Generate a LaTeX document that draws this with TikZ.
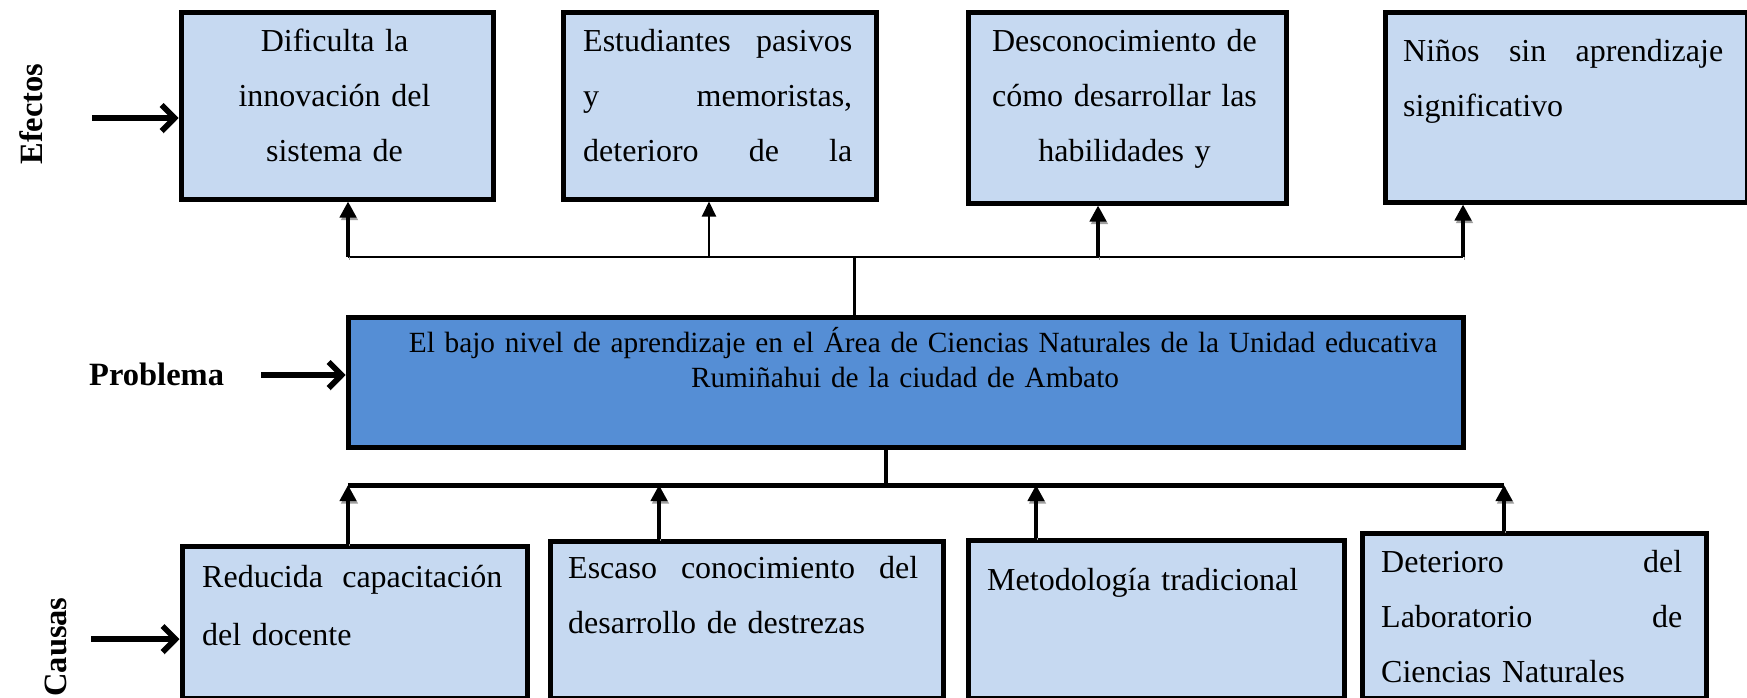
\documentclass[tikz,border=0pt]{standalone}
\usepackage{fontspec}
\setmainfont{Liberation Serif}
\usetikzlibrary{arrows.meta}
\definecolor{lightbox}{HTML}{C6D9F1}
\definecolor{probbox}{HTML}{558ED5}
\definecolor{shadowgray}{gray}{0.62}
\begin{document}
\begin{tikzpicture}[x=1pt,y=-1pt,
  ebox/.style={draw=black, line width=5pt, fill=lightbox, rectangle, inner sep=0pt, anchor=north west},
  pbox/.style={ebox, fill=probbox},
  boxtxt/.style={font=\fontsize{32}{55}\selectfont, inner sep=0pt},
  probtxt/.style={font=\fontsize{29.3}{35}\selectfont, inner sep=0pt, text width=1100pt, align=center},
  lbl/.style={font=\fontsize{32.5}{36}\selectfont\bfseries, inner sep=0pt},
  shadowed/.style={preaction={draw=shadowgray, transform canvas={shift={(1.5pt,-2.5pt)}}}},
  sidearrow/.style={line width=5.5pt, -{Straight Barb[length=13pt, width=26pt, line width=5.5pt]}, shadowed},
  uparrow/.style={line width=4.5pt, -{Triangle[length=16pt, width=16pt]}, shadowed},
  thinuparrow/.style={line width=2pt, -{Triangle[length=15pt, width=14pt]}},
  thinline/.style={line width=2pt},
  midline/.style={line width=3pt},
  thickline/.style={line width=5pt, shadowed},
  vline/.style={line width=4pt, shadowed}]
\useasboundingbox (0,0) rectangle (1747,698);

% effect boxes
\node[ebox, minimum width=312pt, minimum height=186pt] (e1) at (178.5,10.5) {};
\node[ebox, minimum width=313pt, minimum height=186pt] (e2) at (560.5,10.5) {};
\node[ebox, minimum width=318pt, minimum height=190pt] (e3) at (965.5,10.5) {};
\node[ebox, minimum width=362pt, minimum height=189pt] (e4) at (1382.5,10.5) {};

\node[boxtxt, anchor=base, text width=300pt, align=center] (te1) at (334.5,52)
  {Dificulta la\\innovación del\\sistema de};
\node[boxtxt, anchor=base west, text width=269pt, align=left] (te2) at (583,52)
  {Estudiantes\hfill pasivos\\y\hfill memoristas,\\deterioro\hfill de\hfill la};
\node[boxtxt, anchor=base, text width=310pt, align=center] (te3) at (1124.5,52)
  {Desconocimiento de\\cómo desarrollar las\\habilidades y};
\node[boxtxt, anchor=base west, text width=320pt, align=left] (te4) at (1403,62)
  {Niños\hfill sin\hfill aprendizaje\\significativo};

% problem box
\node[pbox, minimum width=1115pt, minimum height=130pt] (p) at (345.5,314.5) {};
\node[probtxt, anchor=base] (tp) at (905,352)
  {\hspace*{36pt}El bajo nivel de aprendizaje en el Área de Ciencias Naturales de la Unidad educativa\\Rumiñahui de la ciudad de Ambato};

% cause boxes
\node[ebox, minimum width=345pt, minimum height=152pt] (c1) at (179.5,543.5) {};
\node[ebox, minimum width=393pt, minimum height=157pt] (c2) at (547.5,538.5) {};
\node[ebox, minimum width=376pt, minimum height=158pt] (c3) at (965.5,537.5) {};
\node[ebox, minimum width=344pt, minimum height=165pt] (c4) at (1359.5,530.5) {};

\node[boxtxt, font=\fontsize{32}{58}\selectfont, anchor=base west, text width=300pt, align=left] (tc1) at (202,587)
  {Reducida\hfill capacitación\\del docente};
\node[boxtxt, anchor=base west, text width=350pt, align=left] (tc2) at (568,578)
  {Escaso\hfill conocimiento\hfill del\\desarrollo de destrezas};
\node[boxtxt, anchor=base west, text width=340pt, align=left] (tc3) at (987,590)
  {Metodología tradicional};
\node[boxtxt, anchor=base west, text width=301pt, align=left] (tc4) at (1381,572)
  {Deterioro\hfill del\\Laboratorio\hfill de\\Ciencias Naturales};

% side labels
\node[lbl, rotate=90] (lef) at (31,114) {Efectos};
\node[lbl, anchor=base west] (lpr) at (89,385) {Problema};
\node[lbl, rotate=90] (lca) at (56,647) {Causas};

% side arrows
\coordinate (ea) at (92,118);
\coordinate (pa) at (261,375);
\coordinate (ca) at (91,639);
\draw[sidearrow] (ea) -- (ea -| e1.west);
\draw[sidearrow] (pa) -- (pa -| p.west);
\draw[sidearrow] (ca) -- (ca -| c1.west);

% effects connectors
\coordinate (t1) at (348,257);
\coordinate (t2) at (709,257);
\coordinate (t3) at (1098,257);
\coordinate (t4) at (1463,257);
\coordinate (jt) at (854,257);
\draw[thinline] (t1) -- (t4);
\draw[midline] (jt |- p.north) -- (jt);
\draw[uparrow] (t1) -- (t1 |- e1.south);
\draw[thinuparrow] (t2) -- (t2 |- e2.south);
\draw[uparrow] (t3) -- (t3 |- e3.south);
\draw[uparrow] (t4) -- (t4 |- e4.south);

% causes connectors
\coordinate (b1) at (348,485);
\coordinate (b2) at (659,485);
\coordinate (b3) at (1036,485);
\coordinate (b4) at (1504,485);
\coordinate (jb) at (886,485);
\draw[vline] (jb |- p.south) -- (jb);
\draw[thickline] (b1) -- (b4);
\draw[uparrow] (b1 |- c1.north) -- (b1);
\draw[uparrow] (b2 |- c2.north) -- (b2);
\draw[uparrow] (b3 |- c3.north) -- (b3);
\draw[uparrow] (b4 |- c4.north) -- (b4);
\end{tikzpicture}
\end{document}
